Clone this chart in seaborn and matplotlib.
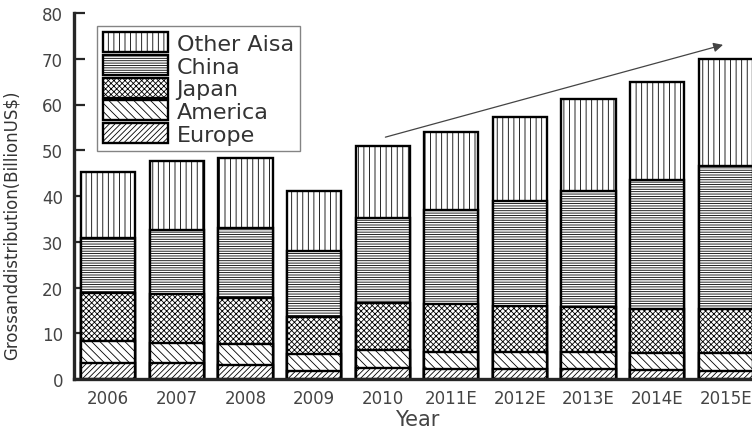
import numpy as np
import pandas as pd
import matplotlib
matplotlib.use("Agg")
import matplotlib.pyplot as plt
import seaborn as sns
from matplotlib.patches import Patch

years = ["2006", "2007", "2008", "2009", "2010", "2011E", "2012E", "2013E", "2014E", "2015E"]
europe = [3.5, 3.5, 3.0, 1.8, 2.3, 2.2, 2.2, 2.2, 2.0, 1.8]
america = [4.9, 4.4, 4.6, 3.6, 4.0, 3.8, 3.8, 3.6, 3.7, 3.9]
japan = [10.5, 10.7, 10.2, 8.2, 10.3, 10.3, 9.9, 10.0, 9.7, 9.5]
china = [11.9, 13.9, 15.1, 14.3, 18.7, 20.7, 22.9, 25.3, 28.1, 31.3]
other_asia = [14.4, 15.1, 15.3, 13.2, 15.7, 17.0, 18.5, 20.1, 21.5, 23.5]
series_names = ["Europe", "America", "Japan", "China", "Other Aisa"]
hatches = ["//////", "\\\\\\\\", "xxxxxx", "-------", "|||"]

sns.set_style("ticks")
plt.rcParams["font.family"] = ["DejaVu Sans"]
plt.rcParams["hatch.linewidth"] = 0.6

fig = plt.figure(figsize=(7.52, 4.31), dpi=100)
ax = fig.add_axes([74 / 752, 51 / 431, 686 / 752, 366 / 431])

layers = [europe, america, japan, china, other_asia]
cum = np.cumsum(np.array(layers), axis=0)
df = pd.DataFrame({"Year": years})
for i in range(len(layers) - 1, -1, -1):
    df["v"] = cum[i]
    sns.barplot(data=df, x="Year", y="v", order=years, color="white",
                edgecolor="black", linewidth=1.7, hatch=hatches[i],
                width=0.79, ax=ax, saturation=1, err_kws={"linewidth": 0})
for p in ax.patches:
    p.set_facecolor("white")

ax.set_xlim(-0.5, 9.5)
ax.set_ylim(0, 80)
ax.set_yticks(range(0, 81, 10))
ax.tick_params(axis="y", direction="in", length=8, width=1.6, labelsize=12,
               labelcolor="#444444", pad=8)
ax.tick_params(axis="x", length=0, labelsize=12, labelcolor="#444444", pad=7)
for s in ["top", "right"]:
    ax.spines[s].set_visible(False)
ax.spines["left"].set_linewidth(2.4)
ax.spines["bottom"].set_linewidth(2.4)
ax.set_xlabel("Year", fontsize=15, color="#444444", labelpad=2)
ax.set_ylabel("")
fig.text(12 / 752, 1 - 225 / 431, "Grossanddistribution(BillionUS$)",
         rotation=90, ha="center", va="center", fontsize=12, color="#333333")

ax.annotate("", xy=(9.0, 73.2), xytext=(4.0, 52.7),
            arrowprops=dict(arrowstyle="-|>", color="#444444", lw=0.9,
                            mutation_scale=14))

handles = [Patch(facecolor="white", edgecolor="black", hatch=hatches[i], linewidth=1.7)
           for i in range(len(series_names) - 1, -1, -1)]
labels = [series_names[i] for i in range(len(series_names) - 1, -1, -1)]
leg = ax.legend(handles, labels, loc="upper left", bbox_to_anchor=(0.033, 0.965),
                fontsize=16, handlelength=2.9, handleheight=1.0, labelspacing=0.05,
                handletextpad=0.4, borderpad=0.3, frameon=True, fancybox=False,
                borderaxespad=0)
leg.get_frame().set_edgecolor("#666666")
leg.get_frame().set_linewidth(1.0)
for t in leg.get_texts():
    t.set_color("#333333")

fig.savefig("out.png", dpi=100)
